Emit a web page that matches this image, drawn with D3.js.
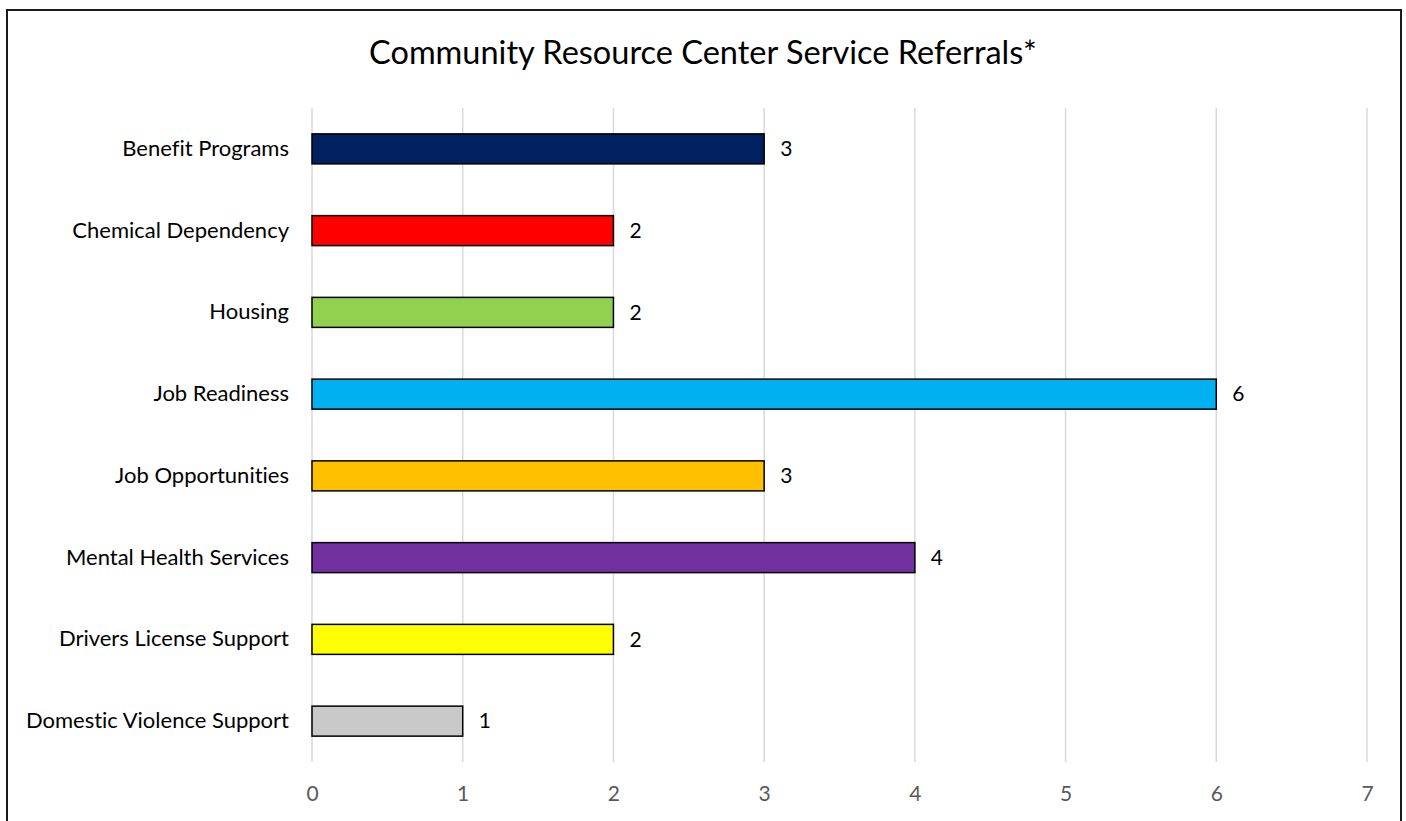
<!DOCTYPE html>
<html><head><meta charset="utf-8">
<script src="https://cdn.jsdelivr.net/npm/d3@7"></script>
<style>body{margin:0;background:#fff;} svg{display:block;font-family:Lato, "Open Sans", sans-serif;font-variant-ligatures:none;font-feature-settings:"liga" 0, "dlig" 0;}</style>
</head><body>
<svg id="c" width="1406" height="821"></svg>
<script>
const title = "Community Resource Center Service Referrals*";
const categories = ["Benefit Programs","Chemical Dependency","Housing","Job Readiness","Job Opportunities","Mental Health Services","Drivers License Support","Domestic Violence Support"];
const values = [3,2,2,6,3,4,2,1];
const colors = ["#002060","#FF0000","#92D050","#00B0F0","#FFC000","#7030A0","#FFFF00","#C9C9C9"];
const tickValues = [0,1,2,3,4,5,6,7];

const svg = d3.select("#c");
svg.append("rect").attr("x",7).attr("y",10).attr("width",1394).attr("height",830)
  .attr("fill","none").attr("stroke","#1a1a1a").attr("stroke-width",2);

svg.append("text").attr("x",703).attr("y",64).attr("text-anchor","middle")
  .attr("font-size",32.5).attr("fill","#000").text(title);

const x = d3.scaleLinear().domain([0,7]).range([312,1367]);
const y = d3.scaleBand().domain(categories).range([108,762]).paddingInner(0.633).paddingOuter(0.3165);

// gridlines
svg.append("g").selectAll("line").data(tickValues).join("line")
  .attr("x1",d=>x(d)).attr("x2",d=>x(d)).attr("y1",108).attr("y2",762)
  .attr("stroke","#d9d9d9").attr("stroke-width",1.5);

// x axis tick labels
const xAxis = d3.axisBottom(x).tickValues(tickValues).tickSize(0).tickPadding(0).tickFormat(d3.format("d"));
const gx = svg.append("g").attr("transform","translate(0,786)").call(xAxis);
gx.select(".domain").remove();
gx.selectAll("text").attr("font-size",21).attr("fill","#595959").attr("font-family","Lato, 'Open Sans', sans-serif");

// y axis labels
const yAxis = d3.axisLeft(y).tickSize(0).tickPadding(0);
const gy = svg.append("g").attr("transform","translate(289,0)").call(yAxis);
gy.select(".domain").remove();
gy.selectAll("text").attr("font-size",22).attr("fill","#000").attr("font-family","Lato, 'Open Sans', sans-serif");

// bars
svg.append("g").selectAll("rect").data(values).join("rect")
  .attr("x",x(0)).attr("y",(d,i)=>y(categories[i]))
  .attr("width",d=>x(d)-x(0)).attr("height",y.bandwidth())
  .attr("fill",(d,i)=>colors[i]).attr("stroke","#000").attr("stroke-width",1.5);

// value labels
svg.append("g").selectAll("text").data(values).join("text")
  .attr("x",d=>x(d)+16).attr("y",(d,i)=>y(categories[i])+y.bandwidth()/2)
  .attr("dy","0.35em").attr("font-size",21).attr("fill","#000").text(d=>d);
</script>
</body></html>
